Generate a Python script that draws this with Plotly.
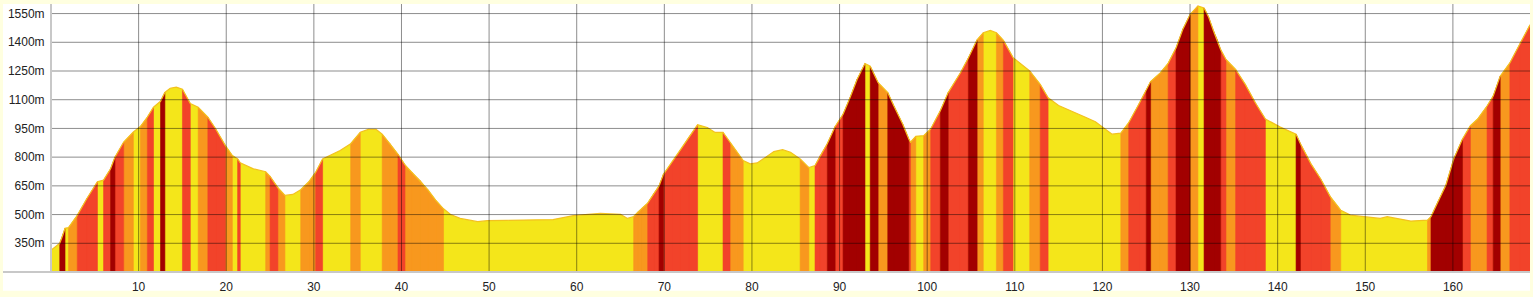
import plotly.graph_objects as go

# ---- data (distance km, elevation m) ----
dist_km = [0.0, 1.0, 1.4, 1.6, 2.0, 3.0, 4.1, 5.3, 6.0, 6.8, 7.3, 8.3, 9.4, 10.2, 11.0, 11.7, 12.5, 13.0,
           13.6, 14.3, 15.0, 15.3, 15.9, 16.8, 17.9, 18.8, 19.9, 20.7, 21.3, 21.6, 23.1, 24.5, 25.0, 25.9,
           26.7, 27.6, 28.5, 29.4, 30.2, 31.0, 31.9, 33.0, 34.2, 35.3, 36.2, 37.1, 37.8, 38.7, 39.6, 40.4,
           41.2, 42.1, 43.0, 43.9, 44.8, 45.6, 46.7, 48.7, 49.8, 52.0, 55.1, 57.3, 59.6, 62.7, 65.0, 65.8,
           66.5, 67.0, 67.5, 68.1, 68.8, 69.4, 69.9, 70.9, 71.8, 72.8, 73.8, 74.9, 75.8, 76.7, 77.5, 78.3,
           79.0, 79.8, 80.6, 81.3, 82.5, 83.5, 84.4, 85.5, 86.5, 87.2, 87.8, 88.6, 89.5, 90.4, 91.2, 92.0,
           92.9, 93.5, 94.4, 95.5, 96.2, 97.2, 97.9, 98.1, 98.7, 99.6, 100.4, 101.5, 102.4, 103.8, 104.7,
           105.7, 106.4, 107.2, 107.9, 108.7, 109.8, 110.6, 111.7, 112.9, 113.8, 115.0, 116.3, 118.0, 119.2,
           120.3, 121.1, 122.1, 123.0, 124.2, 125.0, 125.5, 126.6, 127.5, 128.4, 129.2, 130.0, 130.9, 131.6,
           132.1, 132.7, 133.1, 133.5, 134.1, 135.2, 136.3, 137.5, 138.6, 140.3, 142.1, 142.6, 143.8, 144.9,
           146.0, 147.2, 148.3, 150.2, 151.7, 152.5, 154.0, 155.2, 157.1, 157.5, 158.3, 159.2, 160.1, 161.1,
           162.0, 162.8, 163.9, 164.6, 165.4, 166.5, 167.7, 168.8]
elev_m = [314, 350, 400, 428, 432, 496, 584, 672, 680, 739, 800, 879, 931, 960, 1009, 1061, 1092, 1138,
          1160, 1166, 1155, 1128, 1080, 1061, 1009, 947, 860, 808, 791, 770, 739, 724, 700, 640,
          600, 605, 630, 670, 720, 790, 810, 835, 870, 930, 945, 945, 920, 870, 815, 760,
          720, 680, 630, 575, 530, 500, 480, 463, 468, 470, 471, 474, 494, 506, 501, 480,
          490, 515, 535, 560, 610, 650, 710, 775, 834, 904, 969, 955, 929, 929, 877, 826,
          782, 765, 770, 791, 829, 839, 826, 791, 745, 756, 808, 870, 960, 1024, 1111, 1206,
          1289, 1275, 1189, 1137, 1067, 973, 895, 878, 909, 912, 947, 1042, 1137, 1241, 1318,
          1413, 1450, 1462, 1450, 1410, 1320, 1290, 1250, 1180, 1110, 1070, 1045, 1010, 985,
          950, 920, 925, 980, 1080, 1150, 1195, 1240, 1290, 1370, 1470, 1545, 1590, 1579,
          1534, 1456, 1413, 1361, 1310, 1258, 1180, 1080, 999, 957, 920, 870, 765, 687,
          594, 523, 497, 489, 480, 489, 476, 466, 471, 489, 567, 653, 791, 895,
          964, 998, 1067, 1119, 1223, 1292, 1396, 1491]

x_ticks = [10, 20, 30, 40, 50, 60, 70, 80, 90, 100, 110, 120, 130, 140, 150, 160]
y_ticks = [350, 500, 650, 800, 950, 1100, 1250, 1400, 1550]
y_tick_labels = ["350m", "500m", "650m", "800m", "950m", "1100m", "1250m", "1400m", "1550m"]

# gradient classes (% absolute slope lower bounds) and colours
grade_bounds = [4, 6.5, 9]
class_colors = ["#f4e61a", "#f8981e", "#f2432a", "#a20000"]

Y_MIN, Y_MAX = 200, 1600
X_MAX = 168.8

fig = go.Figure()

# base yellow fill of the full profile
fig.add_trace(go.Scatter(x=dist_km, y=elev_m, mode="lines", fill="tozeroy",
                         fillcolor=class_colors[0], line=dict(width=0, color=class_colors[0]),
                         hoverinfo="skip", showlegend=False))

# coloured stripes per gradient class
for ci in range(1, len(class_colors)):
    xs, ys = [], []
    for i in range(len(dist_km) - 1):
        dx = (dist_km[i + 1] - dist_km[i]) * 1000.0
        g = abs(elev_m[i + 1] - elev_m[i]) / dx * 100.0
        k = sum(1 for b in grade_bounds if g >= b)
        if k == ci:
            xs += [dist_km[i], dist_km[i], dist_km[i + 1], dist_km[i + 1], dist_km[i], None]
            ys += [Y_MIN - 50, elev_m[i], elev_m[i + 1], Y_MIN - 50, Y_MIN - 50, None]
    fig.add_trace(go.Scatter(x=xs, y=ys, mode="lines", fill="toself",
                             fillcolor=class_colors[ci],
                             line=dict(width=0.6, color=class_colors[ci]),
                             hoverinfo="skip", showlegend=False))

# outline of the profile
fig.add_trace(go.Scatter(x=dist_km, y=elev_m, mode="lines",
                         line=dict(width=1.2, color="#f3c21f"),
                         hoverinfo="skip", showlegend=False))

L, R, T, B = 51, 3, 4, 23
W, H = 1533 - L - R, 297 - T - B


def px_x(p):
    return (p - L) / W


def px_y(p):
    return (297 - B - p) / H


shapes = []
# white chart panel over the light-yellow page
shapes.append(dict(type="rect", xref="paper", yref="paper", x0=px_x(3), x1=px_x(1530),
                   y0=px_y(293), y1=px_y(4), fillcolor="white", line=dict(width=0), layer="below"))
grid_col = "rgba(0,0,0,0.45)"
for v in x_ticks:
    shapes.append(dict(type="line", xref="x", yref="paper", x0=v, x1=v, y0=0, y1=1,
                       line=dict(color=grid_col, width=1), layer="above"))
for v in y_ticks:
    shapes.append(dict(type="line", xref="paper", yref="y", x0=0, x1=1, y0=v, y1=v,
                       line=dict(color=grid_col, width=1), layer="above"))
# axis lines
shapes.append(dict(type="line", xref="paper", yref="paper", x0=0, x1=0, y0=0, y1=1,
                   line=dict(color="#c8c8c8", width=2), layer="above"))
shapes.append(dict(type="line", xref="paper", yref="paper", x0=px_x(3), x1=1, y0=0, y1=0,
                   line=dict(color="#c8c8c8", width=2), layer="above"))

fig.update_layout(
    width=1533, height=297,
    margin=dict(l=L, r=R, t=T, b=B, pad=0),
    paper_bgcolor="#ffffe0", plot_bgcolor="white",
    font=dict(family="Arial, Liberation Sans, sans-serif", size=12, color="#222222"),
    shapes=shapes,
    showlegend=False,
    xaxis=dict(range=[0, X_MAX], tickvals=x_ticks, showgrid=False, zeroline=False, showline=False,
               ticks="outside", ticklen=4, tickcolor="rgba(0,0,0,0)", fixedrange=True),
    yaxis=dict(range=[Y_MIN, Y_MAX], tickvals=y_ticks, ticktext=y_tick_labels, showgrid=False,
               zeroline=False, showline=False, ticks="outside", ticklen=3,
               tickcolor="rgba(0,0,0,0)", fixedrange=True),
)

fig.write_html("out.html")
